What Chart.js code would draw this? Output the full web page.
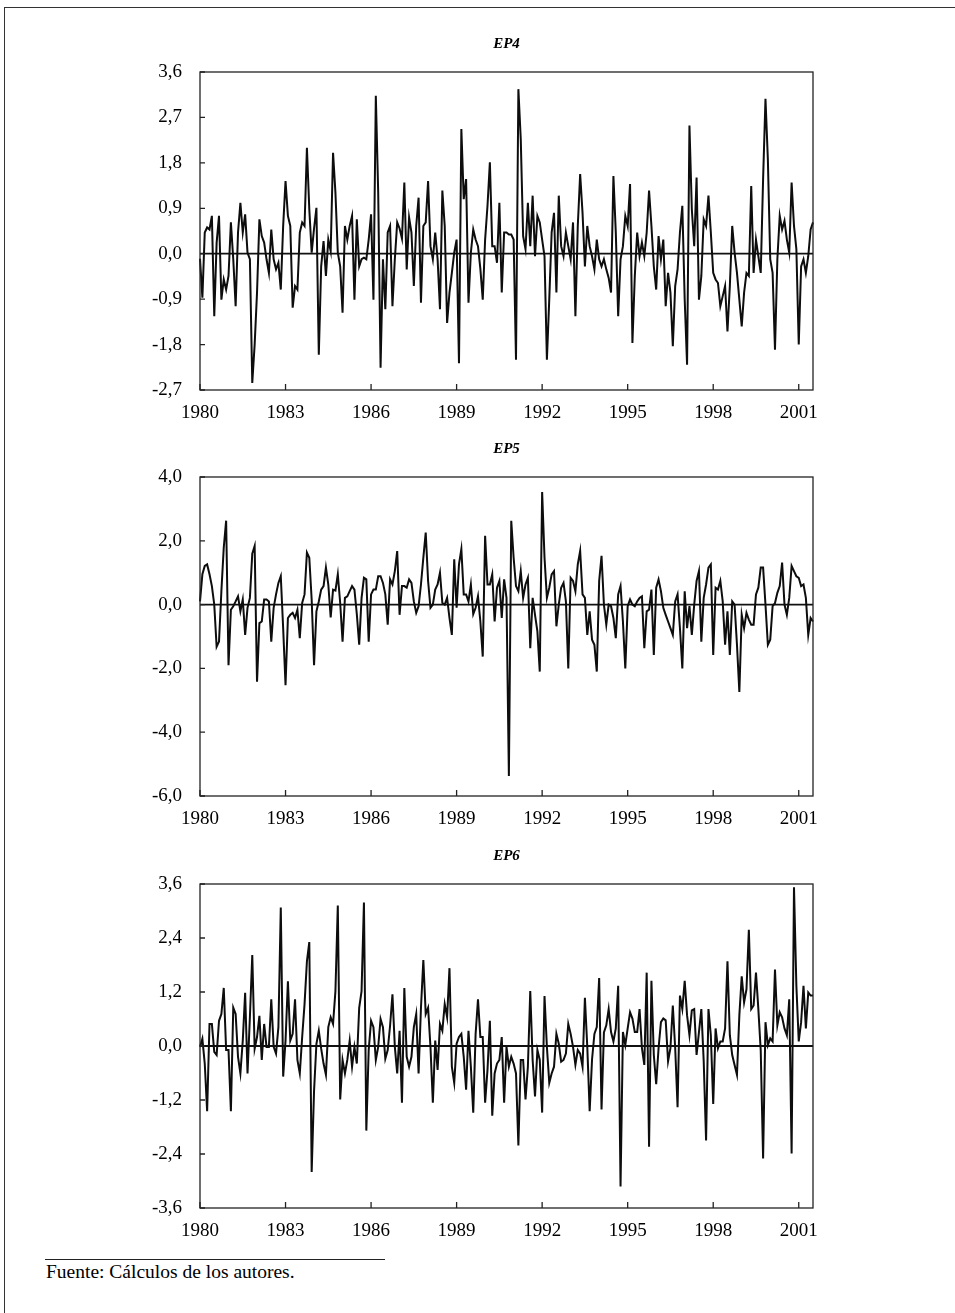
<!DOCTYPE html>
<html>
<head>
<meta charset="utf-8">
<script src="https://cdn.jsdelivr.net/npm/chart.js@4"></script>
<style>
  body { margin: 0; background: #fff; width: 955px; height: 1313px; position: relative; overflow: hidden; }
  .frame { position: absolute; left: 4px; top: 7px; right: 0; bottom: 0; border-top: 1.5px solid #333; border-left: 1.5px solid #333; }
  canvas { position: absolute; left: 0; }
  .rule { position: absolute; left: 45px; top: 1259px; width: 340px; border-top: 1.3px solid #222; }
  .note { position: absolute; left: 46px; top: 1261px; font: 19.5px "Liberation Serif", "Times New Roman", serif; color: #000; }
</style>
</head>
<body>
<div class="frame"></div>
<canvas id="c4" width="955" height="410" style="top:20px"></canvas>
<canvas id="c5" width="955" height="411" style="top:425px"></canvas>
<canvas id="c6" width="955" height="416" style="top:832px"></canvas>
<div class="rule"></div>
<div class="note">Fuente: Cálculos de los autores.</div>
<script>
// monthly observations, 1980:01 - 2001:07
const months = [];
for (let y = 1980; y <= 2001; y++) {
  for (let m = 1; m <= 12; m++) {
    if (months.length < 259) months.push(y + ':' + String(m).padStart(2, '0'));
  }
}

const ep4 = [
  -0.10, -0.87, 0.42, 0.52, 0.48, 0.75, -1.24, 0.22, 0.75, -0.91, -0.51, -0.71,
  -0.44, 0.62, -0.11, -1.04, 0.42, 1.01, 0.42, 0.78, 0.02, -0.11, -2.56, -1.80,
  -0.77, 0.68, 0.35, 0.22, -0.11, -0.38, 0.48, -0.11, -0.31, -0.18, -0.71, 0.55,
  1.44, 0.75, 0.55, -1.07, -0.64, -0.71, 0.42, 0.62, 0.55, 2.10, 0.88, 0.02,
  0.50, 0.91, -2.00, -0.25, 0.25, -0.44, 0.28, 0.05, 2.00, 1.21, 0.02, -0.25,
  -1.17, 0.55, 0.28, 0.55, 0.75, -0.91, 0.68, -0.25, -0.11, -0.08, -0.11, 0.28,
  0.78, -0.91, 3.13, 1.21, -2.26, -0.11, -1.10, 0.42, 0.55, -1.04, -0.11, 0.62,
  0.50, 0.30, 1.41, -0.31, 0.72, 0.42, -0.64, 0.55, 1.11, -0.97, 0.55, 0.62,
  1.44, 0.15, -0.11, 0.42, -0.11, -1.10, 1.25, 0.55, -1.37, -0.77, -0.38, 0.02,
  0.28, -2.17, 2.47, 1.08, 1.48, -0.97, 0.02, 0.48, 0.28, 0.15, -0.30, -0.91,
  0.28, 0.95, 1.81, 0.15, 0.15, -0.18, 1.01, -0.77, 0.42, 0.42, 0.38, 0.38,
  0.28, -2.10, 3.26, 2.27, 0.35, 0.09, 1.01, 0.15, 1.15, -0.05, 0.75, 0.62,
  0.28, -0.05, -2.10, -0.90, 0.42, 0.81, -0.77, 1.15, 0.15, -0.05, 0.42, 0.15,
  -0.11, 0.62, -1.24, 0.55, 1.58, 0.81, -0.25, 0.55, 0.15, -0.05, -0.31, 0.28,
  -0.11, -0.25, -0.11, -0.31, -0.48, -0.77, 1.54, 0.42, -1.24, -0.11, 0.15, 0.75,
  0.55, 1.38, -1.77, -0.44, 0.42, -0.05, 0.22, -0.05, 0.42, 1.25, 0.55, -0.25,
  -0.71, 0.35, -0.11, 0.28, -1.04, -0.38, -0.77, -1.83, -0.64, -0.31, 0.42, 0.95,
  -0.91, -2.20, 2.54, 0.88, 0.15, 1.51, -0.91, -0.44, 0.68, 0.55, 1.15, 0.42,
  -0.38, -0.51, -0.58, -1.04, -0.84, -0.64, -1.54, -0.64, 0.55, 0.02, -0.38, -0.91,
  -1.44, -0.77, -0.38, -0.44, 1.34, -0.38, 0.28, -0.05, -0.38, 1.48, 3.07, 1.87,
  -0.11, -0.38, -1.90, -0.11, 0.75, 0.48, 0.65, 0.28, 0.02, 1.41, 0.55, 0.09,
  -1.80, -0.25, -0.11, -0.38, -0.05, 0.48, 0.62
];

const ep5 = [
  0.10, 0.95, 1.21, 1.26, 0.95, 0.58, 0.00, -1.32, -1.16, 0.42, 1.79, 2.63,
  -1.90, -0.16, -0.05, 0.10, 0.26, -0.21, 0.16, -0.95, -0.10, 0.21, 1.60, 1.84,
  -2.42, -0.58, -0.53, 0.16, 0.16, 0.10, -1.16, -0.10, 0.32, 0.68, 0.89, -0.74,
  -2.53, -0.42, -0.32, -0.26, -0.42, -0.16, -1.05, 0.05, 0.32, 1.63, 1.47, 0.16,
  -1.90, -0.21, 0.10, 0.47, 0.58, 1.16, 0.63, -0.40, 0.47, 0.44, 0.95, 0.05,
  -1.16, 0.21, 0.26, 0.42, 0.58, 0.47, -0.30, -1.26, 0.21, 0.84, 0.79, -1.16,
  0.32, 0.47, 0.47, 0.89, 0.89, 0.68, 0.32, -0.63, 0.79, 0.63, 1.05, 1.68,
  -0.32, 0.58, 0.58, 0.53, 0.79, 0.68, 0.10, -0.26, -0.05, 0.63, 1.47, 2.26,
  0.74, -0.10, 0.00, 0.47, 0.63, 1.00, 0.05, 0.00, 0.21, -0.42, -0.95, 1.42,
  -0.10, 1.26, 1.74, 0.32, 0.32, 0.10, 0.63, -0.30, -0.10, 0.26, -0.53, -1.63,
  2.16, 0.63, 0.63, 0.95, -0.53, 0.53, 0.74, -0.42, 0.79, 0.21, -5.37, 2.63,
  1.47, 0.58, 0.42, 1.05, 0.21, 0.63, 0.84, -1.37, 0.21, -0.32, -0.84, -2.10,
  3.53, 1.47, 0.21, 0.53, 0.95, 1.05, -0.68, 0.00, 0.53, 0.68, 0.10, -2.00,
  0.84, 0.74, 0.42, 1.26, 1.68, 0.32, 0.21, -0.95, -0.21, -1.10, -1.26, -2.10,
  0.74, 1.53, 0.00, -0.63, 0.00, -0.05, -0.42, -1.05, 0.32, 0.58, -0.53, -2.00,
  -0.05, 0.16, 0.00, -0.05, 0.10, 0.21, 0.26, -1.37, -0.21, -0.16, 0.47, -1.58,
  0.53, 0.79, 0.42, -0.10, -0.32, -0.53, -0.74, -0.95, 0.10, 0.32, -0.74, -2.00,
  0.42, -0.74, -0.05, -0.95, 0.00, 0.74, 1.05, -1.16, 0.21, 0.63, 1.16, 1.26,
  -1.58, 0.53, 0.47, 0.74, 0.10, -1.26, -0.21, -1.58, 0.10, 0.00, -1.26, -2.74,
  -0.32, -0.74, -0.26, -0.47, -0.63, -0.63, 0.32, 0.53, 1.16, 1.16, 0.00, -1.26,
  -1.10, -0.05, 0.05, 0.37, 0.58, 1.32, 0.00, -0.32, 0.21, 1.21, 1.05, 0.89,
  0.84, 0.58, 0.63, 0.21, -0.95, -0.42, -0.53
];

const ep6 = [
  -0.02, 0.16, -0.39, -1.45, 0.49, 0.49, -0.13, -0.20, 0.56, 0.71, 1.29, -0.09,
  -0.09, -1.45, 0.85, 0.71, -0.24, -0.61, 0.12, 1.18, -0.61, 0.64, 2.02, -0.06,
  0.20, 0.67, -0.31, 0.49, -0.02, -0.02, 1.04, -0.02, -0.17, 0.42, 3.08, -0.68,
  0.12, 1.44, 0.12, 0.27, 1.04, -0.31, -0.61, 0.20, 0.93, 1.88, 2.31, -2.80,
  -1.00, 0.05, 0.34, -0.06, -0.39, -0.64, 0.42, 0.64, 0.49, 1.22, 3.12, -1.19,
  -0.31, -0.61, -0.31, 0.12, -0.46, -0.02, -0.39, 0.85, 1.22, 3.19, -1.88, -0.09,
  0.56, 0.42, -0.31, -0.02, 0.60, 0.42, -0.28, -0.09, 0.45, 1.15, -0.02, -0.61,
  0.34, -1.26, 1.29, -0.24, -0.46, -0.24, 0.42, 0.71, -0.61, 0.85, 1.91, 0.71,
  0.85, -0.02, -1.26, 0.12, -0.53, 0.49, 0.34, 0.93, 0.64, 1.73, -0.46, -0.82,
  0.05, 0.20, 0.27, -0.24, -0.97, 0.34, -0.46, -1.48, 0.27, 1.04, 0.20, 0.20,
  -1.26, -0.53, 0.56, -1.55, -0.61, -0.39, -0.31, 0.20, -1.26, -0.02, -0.46, -0.24,
  -0.39, -0.61, -2.21, -0.31, -0.31, -1.19, -0.46, 1.22, -0.31, -1.12, -0.09, -0.31,
  -1.48, 1.11, -0.02, -0.82, -0.61, -0.46, 0.27, 0.05, -0.35, -0.31, -0.17, 0.49,
  0.27, -0.02, -0.42, -0.09, -0.17, -0.46, 1.07, -0.02, -1.45, -0.30, 0.27, 0.42,
  1.51, -1.41, 0.30, 0.46, 0.82, 0.31, 0.10, 0.39, 1.34, -3.12, 0.31, 0.02,
  0.39, 0.75, 0.61, 0.31, 0.31, 0.82, -0.05, -0.42, 1.63, -2.24, 1.45, -0.20,
  -0.85, -0.05, 0.53, 0.61, 0.57, -0.34, -0.05, 0.90, -0.05, -1.36, 1.12, 0.82,
  1.45, 0.68, 0.24, 0.79, 0.82, -0.20, 0.31, 0.82, -0.34, -2.10, 0.82, 0.24,
  -1.29, 0.39, -0.05, 0.10, 0.10, 0.39, 1.88, 0.24, -0.20, -0.42, -0.64, 0.68,
  1.55, 0.97, 1.26, 2.58, 0.82, 0.90, 1.63, 0.82, -0.10, -2.50, 0.53, 0.02,
  0.17, 0.10, 1.70, 0.46, 0.75, 0.64, 0.39, 0.24, 1.04, -2.39, 3.53, 1.34,
  0.10, 0.53, 1.34, 0.39, 1.19, 1.12, 1.12
];

// y-axis tick values for each panel
const ep4Ticks = [-2.7, -1.8, -0.9, 0, 0.9, 1.8, 2.7, 3.6];
const ep5Ticks = [-6, -4, -2, 0, 2, 4];
const ep6Ticks = [-3.6, -2.4, -1.2, 0, 1.2, 2.4, 3.6];

const serif = '"Liberation Serif", "Times New Roman", serif';

// box round the plot, zero line, short inward tick marks
const framePlugin = {
  id: 'frame',
  beforeDatasetsDraw(chart) {
    const { ctx, chartArea: a, scales: { y } } = chart;
    const y0 = y.getPixelForValue(0);
    ctx.save();
    ctx.strokeStyle = '#111';
    ctx.lineWidth = 1.8;
    ctx.beginPath();
    ctx.moveTo(a.left, y0);
    ctx.lineTo(a.right, y0);
    ctx.stroke();
    ctx.restore();
  },
  afterDraw(chart) {
    const { ctx, chartArea: a, scales: { x, y } } = chart;
    ctx.save();
    ctx.strokeStyle = '#222';
    ctx.lineWidth = 1.3;
    ctx.strokeRect(a.left, a.top, a.right - a.left, a.bottom - a.top);
    ctx.beginPath();
    x.ticks.forEach((t) => {
      const px = x.getPixelForValue(t.value);
      ctx.moveTo(px, a.bottom);
      ctx.lineTo(px, a.bottom - 6);
    });
    y.ticks.forEach((t) => {
      const py = y.getPixelForValue(t.value);
      ctx.moveTo(a.left, py);
      ctx.lineTo(a.left + 5, py);
    });
    ctx.stroke();
    ctx.restore();
  }
};

let makeChart = (id, title, values, ticks) => {
  new Chart(document.getElementById(id), {
    type: 'line',
    data: {
      labels: months,
      datasets: [{
        data: values,
        borderColor: '#0d0d0d',
        borderWidth: 2,
        pointRadius: 0,
        tension: 0
      }]
    },
    options: {
      responsive: false,
      animation: false,
      layout: { padding: { left: 0, right: 142, top: 0, bottom: 0 } },
      plugins: {
        legend: { display: false },
        tooltip: { enabled: false },
        title: {
          display: true,
          text: title,
          fullSize: false,
          color: '#000',
          font: { family: serif, size: 15, style: 'italic', weight: 'bold', lineHeight: 1 },
          padding: { top: 17, bottom: 20 }
        }
      },
      scales: {
        x: {
          type: 'category',
          offset: false,
          grid: { display: false },
          border: { display: false },
          afterFit: (s) => { s.height = 40; },
          ticks: {
            autoSkip: false,
            maxRotation: 0,
            padding: 4,
            color: '#000',
            font: { family: serif, size: 19 },
            callback: (v, i) => (i % 36 === 0 ? String(1980 + i / 12) : null)
          }
        },
        y: {
          min: ticks[0],
          max: ticks[ticks.length - 1],
          grid: { display: false },
          border: { display: false },
          afterFit: (s) => { s.width = 200; },
          afterBuildTicks: (s) => { s.ticks = ticks.map(v => ({ value: v })); },
          ticks: {
            padding: 10,
            color: '#000',
            font: { family: serif, size: 19 },
            callback: (v) => v.toFixed(1).replace('.', ',')
          }
        }
      }
    },
    plugins: [framePlugin]
  });
};

makeChart('c4', 'EP4', ep4, ep4Ticks);
makeChart('c5', 'EP5', ep5, ep5Ticks);
makeChart('c6', 'EP6', ep6, ep6Ticks);
</script>
</body>
</html>
